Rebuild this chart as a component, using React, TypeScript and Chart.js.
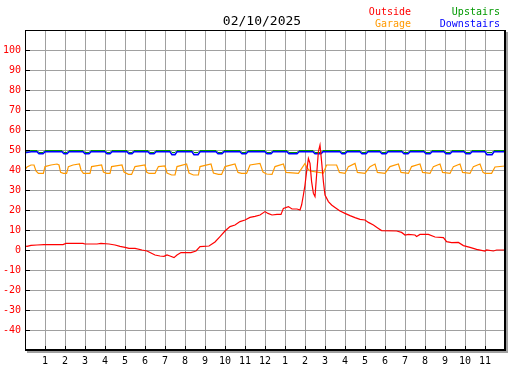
import React, { useEffect, useRef } from 'react';
import { Chart, registerables } from 'chart.js';

Chart.register(...registerables);

const chartTitle = '02/10/2025';

// hour of day (0-24) vs temperature
const outside: [number, number][] = [
  [0, 2], [0.1, 1.8], [0.3, 2.3], [0.6, 2.5], [0.95, 2.7], [1.9, 2.7], [2.05, 3.3], [2.9, 3.3],
  [3.0, 3.0], [3.6, 3.0], [3.8, 3.3], [4.2, 3.0], [4.5, 2.5], [4.75, 1.8], [5.0, 1.3], [5.2, 0.8],
  [5.5, 0.8], [5.85, 0], [6.1, -0.5], [6.3, -1.5], [6.5, -2.5], [6.75, -3], [6.95, -3.2], [7.1, -2.5],
  [7.25, -3.0], [7.45, -3.8], [7.6, -2.5], [7.8, -1.3], [8.3, -1.3], [8.55, -0.5], [8.75, 1.7],
  [9.2, 2.0], [9.5, 4], [9.75, 6.7], [10.0, 9.5], [10.25, 11.7], [10.5, 12.5], [10.75, 14.2],
  [11.0, 15], [11.25, 16.3], [11.5, 16.8], [11.75, 17.5], [12.0, 19.2], [12.15, 18.3], [12.35, 17.5],
  [12.6, 17.8], [12.8, 17.8], [12.92, 20.8], [13.17, 21.7], [13.35, 20.5], [13.6, 20.5], [13.75, 20],
  [13.83, 22.5], [13.92, 27.5], [14.0, 32.5], [14.08, 39.2], [14.17, 45.8], [14.25, 43.3],
  [14.33, 34.2], [14.42, 28.3], [14.5, 26.7], [14.58, 37.5], [14.67, 49.2], [14.75, 52.5],
  [14.83, 44.2], [14.92, 34.2], [15.0, 27.5], [15.17, 24.2], [15.33, 22.5], [15.5, 21.3],
  [15.75, 19.5], [16.0, 18.3], [16.25, 17.2], [16.5, 16.2], [16.75, 15.3], [17.0, 15], [17.17, 13.8],
  [17.42, 12.5], [17.67, 10.8], [17.83, 9.7], [18.58, 9.5], [18.83, 8.8], [19.0, 7.5], [19.17, 7.8],
  [19.5, 7.5], [19.58, 6.8], [19.75, 7.8], [20.17, 7.8], [20.5, 6.5], [20.92, 6.2], [21.08, 4.2],
  [21.33, 3.7], [21.67, 3.8], [21.92, 2.2], [22.25, 1.3], [22.58, 0.3], [23.0, -0.5], [23.08, 0],
  [23.42, -0.5], [23.58, 0], [24, 0],
];

const garage: [number, number][] = [
  [0, 40], [0.1, 41.5], [0.3, 42.5], [0.45, 42.5], [0.55, 39.5], [0.67, 38.3], [0.92, 38.3],
  [1.0, 41.7], [1.3, 42.5], [1.6, 43], [1.7, 42.5], [1.78, 38.8], [1.92, 38.3], [2.08, 38.3],
  [2.17, 41.7], [2.4, 42.5], [2.72, 43], [2.8, 40], [2.92, 38.3], [3.25, 38.3], [3.33, 41.7],
  [3.83, 42.5], [3.92, 39], [4.08, 38.3], [4.25, 38.3], [4.33, 41.7], [4.85, 42.5], [4.95, 39],
  [5.17, 37.8], [5.33, 37.8], [5.5, 41.7], [6.0, 42.5], [6.08, 39], [6.2, 38.3], [6.5, 38.3],
  [6.67, 41.7], [7.0, 42], [7.1, 38.5], [7.33, 37.5], [7.5, 37.5], [7.6, 41.7], [8.08, 43],
  [8.2, 38.5], [8.42, 37.5], [8.67, 37.5], [8.75, 41.7], [9.3, 43], [9.42, 38.5], [9.67, 37.8],
  [9.83, 37.8], [10.0, 41.7], [10.5, 43], [10.65, 38.8], [10.83, 38.3], [11.08, 38.3], [11.25, 42.5],
  [11.75, 43.3], [11.9, 39], [12.08, 38.0], [12.35, 37.8], [12.5, 41.7], [12.92, 43], [13.05, 38.8],
  [13.67, 38.3], [14.0, 43.3], [14.1, 41], [14.25, 39.5], [14.92, 38.5], [15.08, 42.5], [15.58, 42.5],
  [15.72, 38.8], [16.0, 38.3], [16.17, 41.7], [16.5, 43.3], [16.62, 38.8], [17.0, 38.3], [17.25, 41.7],
  [17.5, 43], [17.62, 38.8], [18.0, 38.3], [18.25, 41.7], [18.67, 43], [18.8, 38.8], [19.17, 38.3],
  [19.33, 41.7], [19.75, 43], [19.88, 38.8], [20.25, 38.3], [20.42, 41.7], [20.75, 43], [20.88, 38.8],
  [21.25, 38.3], [21.42, 41.7], [21.75, 43], [21.88, 38.8], [22.25, 38.3], [22.42, 41.7], [22.75, 43],
  [22.9, 38.8], [23.0, 38.3], [23.33, 38.3], [23.5, 41.5], [24, 42],
];

const downstairs: [number, number][] = [
  [0, 48.6], [0.3, 49.1], [0.6, 49.1], [0.7, 48.1], [0.9, 48.1], [1.0, 49.1],
  [1.85, 49.1], [1.95, 48.1], [2.1, 48.1], [2.2, 49.1],
  [2.9, 49.1], [3.0, 48.1], [3.2, 48.1], [3.3, 49.1],
  [4.0, 49.1], [4.1, 48.1], [4.25, 48.1], [4.35, 49.1],
  [5.1, 49.1], [5.2, 48.1], [5.35, 48.1], [5.45, 49.1],
  [6.15, 49.1], [6.25, 48.1], [6.45, 48.1], [6.55, 49.1],
  [7.25, 49.1], [7.35, 47.7], [7.5, 47.7], [7.6, 49.1],
  [8.35, 49.1], [8.45, 47.7], [8.65, 47.7], [8.75, 49.1],
  [9.55, 49.1], [9.65, 48.1], [9.85, 48.1], [9.95, 49.1],
  [10.75, 49.1], [10.85, 48.1], [11.05, 48.1], [11.15, 49.1],
  [12.0, 49.1], [12.1, 48.1], [12.3, 48.1], [12.4, 49.1],
  [13.1, 49.1], [13.2, 48.1], [13.6, 48.1], [13.7, 49.1],
  [14.4, 49.1], [14.5, 48.1], [14.8, 48.1], [14.9, 49.1],
  [15.75, 49.1], [15.85, 48.1], [16.0, 48.1], [16.1, 49.1],
  [16.75, 49.1], [16.85, 48.1], [17.05, 48.1], [17.15, 49.1],
  [17.75, 49.1], [17.85, 48.1], [18.05, 48.1], [18.15, 49.1],
  [18.85, 49.1], [18.95, 48.1], [19.15, 48.1], [19.25, 49.1],
  [19.95, 49.1], [20.05, 48.1], [20.25, 48.1], [20.35, 49.1],
  [20.95, 49.1], [21.05, 48.1], [21.25, 48.1], [21.35, 49.1],
  [21.95, 49.1], [22.05, 48.1], [22.25, 48.1], [22.35, 49.1],
  [23.0, 49.1], [23.1, 47.7], [23.35, 47.7], [23.45, 49.1],
  [24, 49.1],
];

const upstairs: [number, number][] = [
  [0, 49.25], [0.3, 49.75], [0.6, 49.75], [0.7, 48.75], [0.9, 48.75], [1.0, 49.75],
  [1.85, 49.75], [1.95, 48.75], [2.1, 48.75], [2.2, 49.75],
  [2.9, 49.75], [3.0, 48.75], [3.2, 48.75], [3.3, 49.75],
  [4.0, 49.75], [4.1, 48.75], [4.25, 48.75], [4.35, 49.75],
  [5.1, 49.75], [5.2, 48.75], [5.35, 48.75], [5.45, 49.75],
  [6.15, 49.75], [6.25, 48.75], [6.45, 48.75], [6.55, 49.75],
  [7.25, 49.75], [7.35, 48.75], [7.5, 48.75], [7.6, 49.75],
  [8.35, 49.75], [8.45, 48.75], [8.65, 48.75], [8.75, 49.75],
  [9.55, 49.75], [9.65, 48.75], [9.85, 48.75], [9.95, 49.75],
  [10.75, 49.75], [10.85, 48.75], [11.05, 48.75], [11.15, 49.75],
  [12.0, 49.75], [12.1, 48.75], [12.3, 48.75], [12.4, 49.75],
  [13.1, 49.75], [13.2, 48.75], [13.6, 48.75], [13.7, 49.75],
  [14.4, 49.75], [14.5, 48.75], [14.8, 48.75], [14.9, 49.75],
  [15.75, 49.75], [15.85, 48.75], [16.0, 48.75], [16.1, 49.75],
  [16.75, 49.75], [16.85, 48.75], [17.05, 48.75], [17.15, 49.75],
  [17.75, 49.75], [17.85, 48.75], [18.05, 48.75], [18.15, 49.75],
  [18.85, 49.75], [18.95, 48.75], [19.15, 48.75], [19.25, 49.75],
  [19.95, 49.75], [20.05, 48.75], [20.25, 48.75], [20.35, 49.75],
  [20.95, 49.75], [21.05, 48.75], [21.25, 48.75], [21.35, 49.75],
  [21.95, 49.75], [22.05, 48.75], [22.25, 48.75], [22.35, 49.75],
  [23.0, 49.75], [23.1, 48.75], [23.35, 48.75], [23.45, 49.75],
  [24, 49.75],
];

// x tick labels for hours 1..23
const hourLabels = ['1', '2', '3', '4', '5', '6', '7', '8', '9', '10', '11', '12',
  '1', '2', '3', '4', '5', '6', '7', '8', '9', '10', '11'];
// labelled y ticks
const yTickValues = [100, 90, 80, 70, 60, 50, 40, 30, 20, 10, 0, -10, -20, -30, -40];

const legendNames = { outside: 'Outside', upstairs: 'Upstairs', garage: 'Garage', downstairs: 'Downstairs' };
const COLORS = { outside: '#ff0000', upstairs: '#009900', garage: '#ff9900', downstairs: '#0000ff' };
const MONO = "'DejaVu Sans Mono', monospace";

const toXY = (arr: [number, number][]) => arr.map(([x, y]) => ({ x, y }));

const decorPlugin = {
  id: 'decor',
  afterDraw(chart: any) {
    const { ctx, chartArea: a, scales } = chart;
    const xs = scales.x;
    const ys = scales.y;
    ctx.save();
    ctx.fillStyle = '#000';
    // inner tick marks
    for (const v of yTickValues) {
      const py = Math.round(ys.getPixelForValue(v));
      ctx.fillRect(a.left, py, 5, 1);
    }
    for (let h = 1; h <= hourLabels.length; h++) {
      const px = Math.round(xs.getPixelForValue(h));
      ctx.fillRect(px, a.bottom - 4, 1, 4);
    }
    // frame
    const L = Math.round(a.left), T = Math.round(a.top), R = Math.round(a.right), B = Math.round(a.bottom);
    ctx.fillRect(L, T, R - L + 1, 1);
    ctx.fillRect(L, T, 1, B - T + 1);
    ctx.fillRect(R - 1, T, 2, B - T + 1);
    ctx.fillRect(L, B - 1, R - L + 1, 2);
    ctx.fillStyle = '#a0a0a0';
    ctx.fillRect(R + 1, T + 2, 2, B - T + 1);
    ctx.fillRect(L + 2, B + 1, R - L + 1, 2);
    // title
    ctx.fillStyle = '#000';
    ctx.font = `13px ${MONO}`;
    ctx.textAlign = 'center';
    ctx.textBaseline = 'alphabetic';
    ctx.fillText(chartTitle, 262, 25);
    // legend
    ctx.font = `10px ${MONO}`;
    ctx.textAlign = 'right';
    ctx.fillStyle = COLORS.outside;
    ctx.fillText(legendNames.outside, 411, 15);
    ctx.fillStyle = COLORS.garage;
    ctx.fillText(legendNames.garage, 411, 27);
    ctx.fillStyle = COLORS.upstairs;
    ctx.fillText(legendNames.upstairs, 500, 15);
    ctx.fillStyle = COLORS.downstairs;
    ctx.fillText(legendNames.downstairs, 500, 27);
    ctx.restore();
  },
};

export default function App() {
  const ref = useRef<HTMLCanvasElement>(null);
  useEffect(() => {
    document.body.style.margin = '0';
    const canvas = ref.current!;
    const line = (label: string, data: [number, number][], color: string, width: number) => ({
      label,
      data: toXY(data),
      borderColor: color,
      backgroundColor: color,
      borderWidth: width,
      pointRadius: 0,
      tension: 0,
      fill: false,
    });
    const chart = new Chart(canvas, {
      type: 'line',
      data: {
        datasets: [
          line(legendNames.outside, outside, COLORS.outside, 1.2),
          line(legendNames.downstairs, downstairs, COLORS.downstairs, 1.6),
          line(legendNames.upstairs, upstairs, COLORS.upstairs, 1),
          line(legendNames.garage, garage, COLORS.garage, 1.2),
        ],
      },
      options: {
        animation: false,
        responsive: false,
        devicePixelRatio: 1,
        events: [],
        layout: { padding: { top: 30, right: 22, left: 0, bottom: 0 } },
        plugins: { legend: { display: false }, tooltip: { enabled: false }, title: { display: false } },
        scales: {
          x: {
            type: 'linear',
            min: 0,
            max: 24,
            afterFit: (s: any) => { s.height = 20; },
            grid: { color: '#a0a0a0', lineWidth: 1, drawTicks: false },
            border: { display: false },
            ticks: {
              stepSize: 1,
              autoSkip: false,
              maxRotation: 0,
              padding: 5,
              color: '#000',
              font: { family: MONO, size: 10 },
              callback: (v: any) => {
                const i = Number(v);
                return i >= 1 && i <= hourLabels.length ? hourLabels[i - 1] : '';
              },
            },
          },
          y: {
            type: 'linear',
            min: -50,
            max: 110,
            afterFit: (s: any) => { s.width = 25; },
            grid: { color: '#a0a0a0', lineWidth: 1, drawTicks: false },
            border: { display: false },
            ticks: {
              stepSize: 10,
              autoSkip: false,
              padding: 4,
              color: '#ff0000',
              font: { family: MONO, size: 10 },
              callback: (v: any) => (yTickValues.includes(Number(v)) ? String(v) : ''),
            },
          },
        },
      },
      plugins: [decorPlugin],
    });
    return () => chart.destroy();
  }, []);
  return <canvas ref={ref} width={527} height={370} style={{ display: 'block' }} />;
}
